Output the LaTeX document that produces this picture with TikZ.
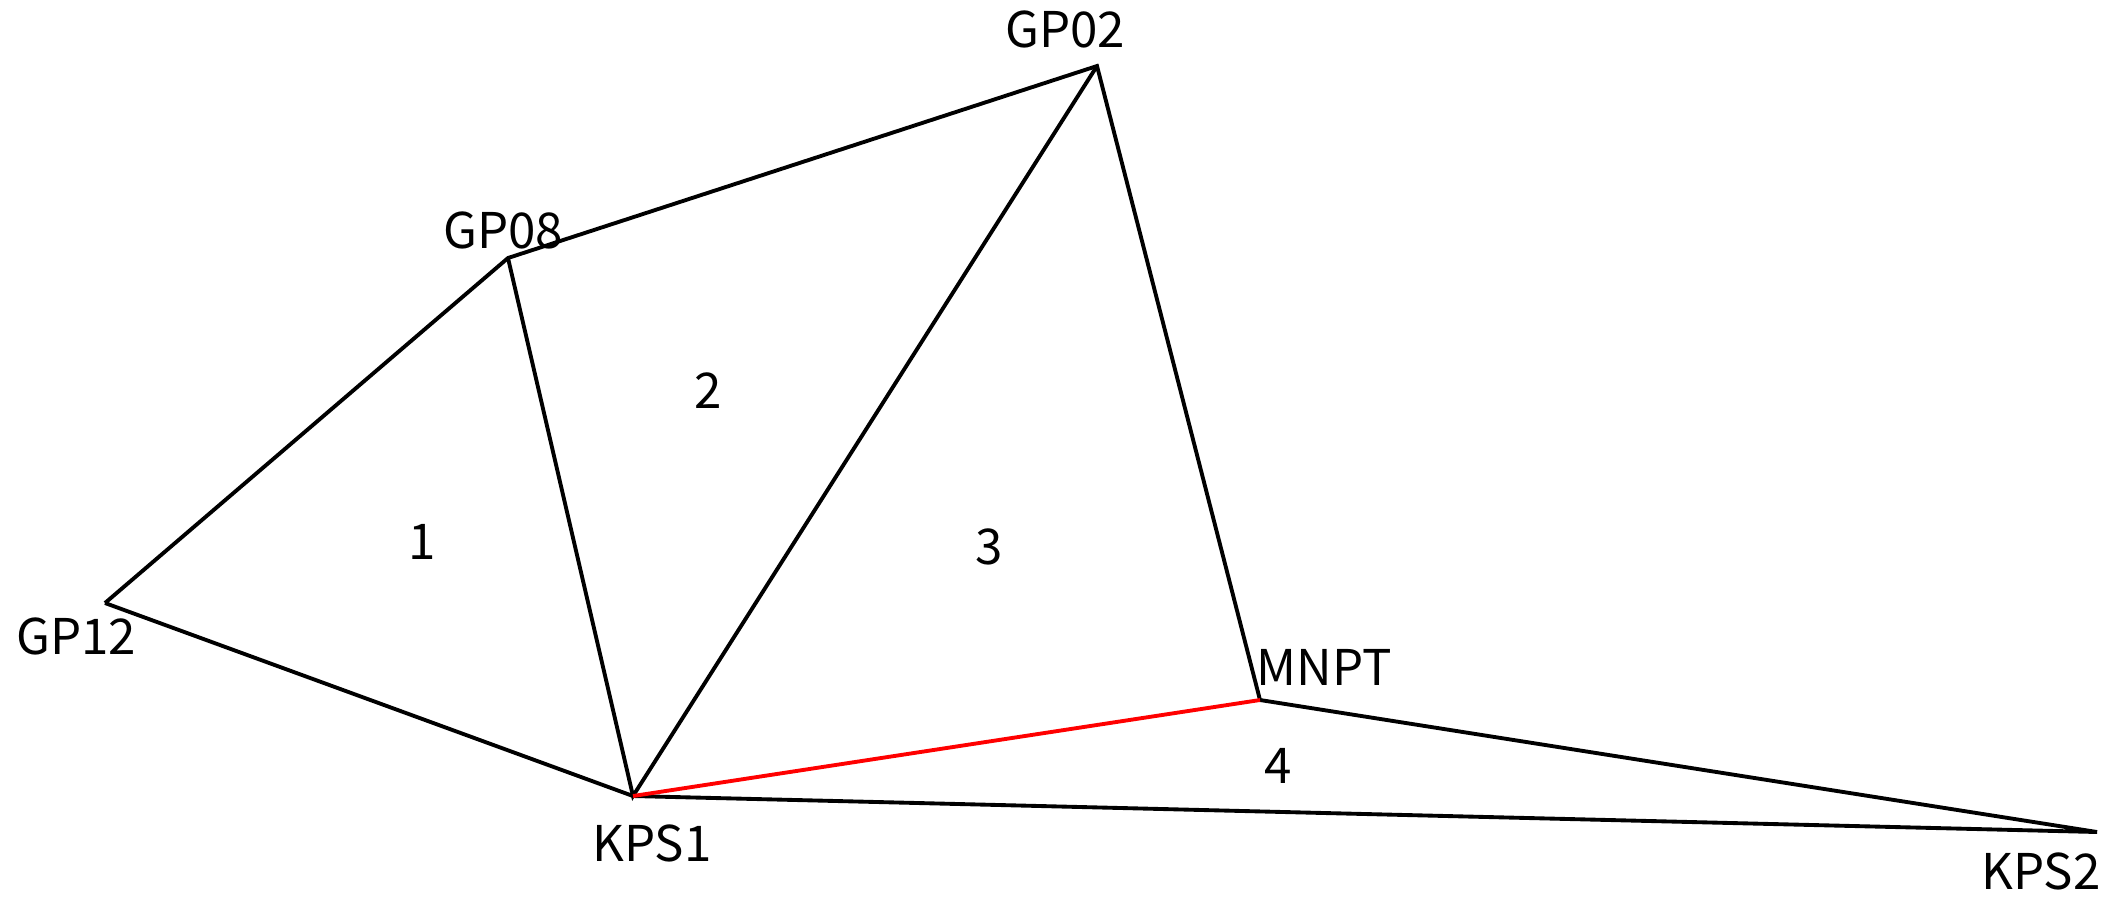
\documentclass[tikz,border=0pt]{standalone}
\usepackage{fontspec}
\setmainfont{Noto Sans CJK SC}
\usepackage{tikz}

\begin{document}
\begin{tikzpicture}[x=.01cm,y=-.01cm,line width=1.1pt,font=\fontsize{14}{17}\selectfont,
  lbl/.style={inner sep=0pt,anchor=center},
  side/.style={draw=black},
  base/.style={draw=red}]
\useasboundingbox (0,0) rectangle (2103,896);
\coordinate (gp02) at (1097,66);\coordinate (gp08) at (508,258);\coordinate (gp12) at (105,603);
\coordinate (kps1) at (633,796);\coordinate (mnpt) at (1260,700);\coordinate (kps2) at (2097,832);
\draw[side] (gp12)--(gp08)--(gp02)--(mnpt)--(kps2)--(kps1)--(gp12);
\draw[side] (gp08)--(kps1)--(gp02);
\draw[base] (kps1)--(mnpt);
\node[lbl] (lgp02) at (1065,29) {GP02};\node[lbl] (lgp08) at (503,230) {GP08};
\node[lbl] (lgp12) at (76,636) {GP12};\node[lbl] (lkps1) at (652,843) {KPS1};
\node[lbl] (lmnpt) at (1324,667) {MNPT};\node[lbl] (lkps2) at (2041,871) {KPS2};
\node[lbl] (t1) at (422,542) {1};\node[lbl] (t2) at (708,391) {2};
\node[lbl] (t3) at (989,547) {3};\node[lbl] (t4) at (1278,766) {4};
\end{tikzpicture}
\end{document}
